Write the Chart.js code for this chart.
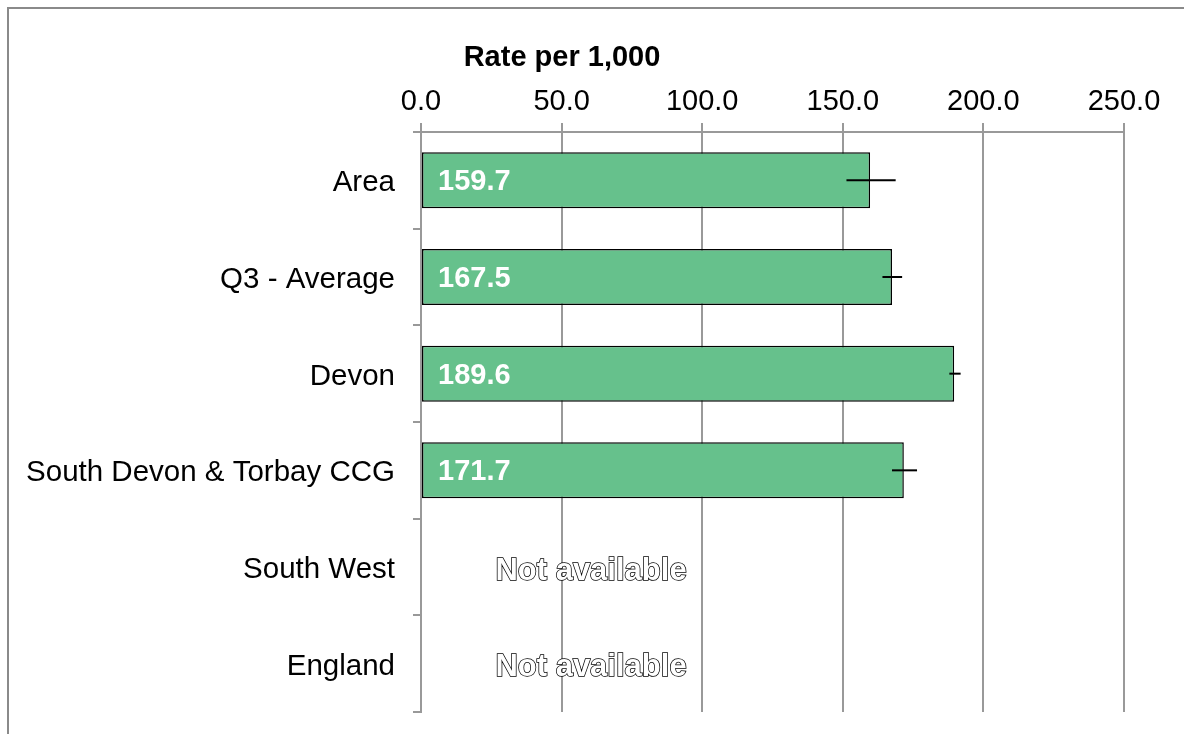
<!DOCTYPE html>
<html>
<head>
<meta charset="utf-8">
<script src="https://cdn.jsdelivr.net/npm/chart.js@4"></script>
<style>
  html, body { margin: 0; padding: 0; background: #fff; }
  #wrap { width: 1184px; height: 734px; position: relative; }
</style>
</head>
<body>
<div id="wrap"><canvas id="rateChart"></canvas></div>
<script>
// Data
var categories = ['Area', 'Q3 - Average', 'Devon', 'South Devon & Torbay CCG', 'South West', 'England'];
var rates = [159.7, 167.5, 189.6, 171.7, null, null];
var lowerCI = [151.3, 164.1, 187.9, 167.5, null, null];
var upperCI = [168.8, 171.1, 191.9, 176.4, null, null];
var axisTicks = [0, 50, 100, 150, 200, 250];

var FONT = "'Liberation Sans', Arial, sans-serif";
var GRID = '#999999';

// frame, axis title, error bars and value labels
var extras = {
    id: 'extras',
    beforeDraw: function(chart) {
        var ctx = chart.ctx;
        ctx.save();
        ctx.strokeStyle = '#8a8a8a';
        ctx.lineWidth = 2;
        ctx.strokeRect(8, 8, 3000, 3000);
        ctx.restore();
    },
    afterDatasetsDraw: function(chart) {
        var ctx = chart.ctx;
        var xs = chart.scales.x;
        var meta = chart.getDatasetMeta(0);
        var area = chart.chartArea;

        ctx.save();
        ctx.fillStyle = '#000';
        ctx.font = 'bold 29px ' + FONT;
        ctx.textAlign = 'center';
        ctx.textBaseline = 'middle';
        ctx.fillText('Rate per 1,000', area.left + 141, 58);

        meta.data.forEach(function(bar, i) {
            var y = bar.y;
            if (rates[i] === null) {
                ctx.font = 'bold 31px ' + FONT;
                ctx.textAlign = 'center';
                ctx.textBaseline = 'middle';
                ctx.lineWidth = 1.5;
                ctx.strokeStyle = '#000';
                ctx.fillStyle = '#fff';
                ctx.strokeText('Not available', area.left + 170, y + 4);
                ctx.fillText('Not available', area.left + 170, y + 4);
                return;
            }
            // confidence interval
            ctx.strokeStyle = '#000';
            ctx.lineWidth = 2;
            ctx.beginPath();
            ctx.moveTo(xs.getPixelForValue(lowerCI[i]), y);
            ctx.lineTo(xs.getPixelForValue(upperCI[i]), y);
            ctx.stroke();
            // value label
            ctx.font = 'bold 29px ' + FONT;
            ctx.fillStyle = '#fff';
            ctx.textAlign = 'left';
            ctx.textBaseline = 'middle';
            ctx.fillText(rates[i].toFixed(1), area.left + 17, y + 2);
        });
        ctx.restore();
    }
};

var ctx = document.getElementById('rateChart').getContext('2d');
var rateChart = new Chart(ctx, {
    type: 'bar',
    data: {
        labels: categories,
        datasets: [{
            data: rates,
            backgroundColor: '#66c18c',
            borderColor: '#000',
            borderWidth: 1.5,
            borderSkipped: false,
            barPercentage: 0.58,
            categoryPercentage: 1
        }]
    },
    options: {
        indexAxis: 'y',
        responsive: true,
        maintainAspectRatio: false,
        animation: false,
        devicePixelRatio: 1,
        layout: { padding: { left: 0, top: 0, right: 60, bottom: 22 } },
        plugins: {
            legend: { display: false },
            tooltip: { enabled: false }
        },
        scales: {
            x: {
                position: 'top',
                min: 0,
                max: 250,
                afterBuildTicks: function(scale) {
                    scale.ticks = axisTicks.map(function(v) { return { value: v }; });
                },
                afterFit: function(scale) { scale.height = 132; },
                ticks: {
                    color: '#000',
                    font: { family: FONT, size: 29 },
                    padding: 4,
                    maxRotation: 0,
                    callback: function(v) { return Number(v).toFixed(1); }
                },
                grid: { color: GRID, lineWidth: 2, tickLength: 9 },
                border: { color: GRID, width: 2 }
            },
            y: {
                afterFit: function(scale) {
                    scale.width = 421;
                    scale.paddingTop = 0;
                    scale.paddingBottom = 0;
                },
                ticks: {
                    color: '#000',
                    font: { family: FONT, size: 29.5 },
                    padding: 18,
                    labelOffset: 3
                },
                grid: { drawOnChartArea: false, color: GRID, lineWidth: 2, tickLength: 8 },
                border: { color: GRID, width: 2 }
            }
        }
    },
    plugins: [extras]
});
</script>
</body>
</html>
